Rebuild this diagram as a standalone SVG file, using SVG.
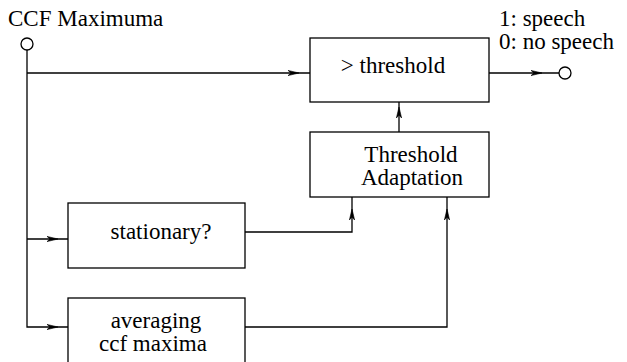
<svg xmlns="http://www.w3.org/2000/svg" xmlns:xlink="http://www.w3.org/1999/xlink" width="627" height="362" viewBox="0 0 627 362">
<style>
.box{fill:#fff;stroke:#000;stroke-width:1.3}
.ln{fill:none;stroke:#000;stroke-width:1.3}
.t{font-family:"Liberation Serif","Times New Roman",serif;font-size:23px;fill:#000}
.m{text-anchor:middle}
.ah{fill:#000;stroke:#000;stroke-width:0.6}
.port{fill:#fff;stroke:#000;stroke-width:1.3}
</style>
<defs>
<path id="arr" class="ah" d="M0,0 L-11,-2.6 L-8,0 L-11,2.6 Z"/>
</defs>
<g id="input">
<circle class="port" cx="27" cy="44" r="6"/>
<text class="t" x="8" y="26">CCF Maximuma</text>
</g>
<g id="output">
<circle class="port" cx="565" cy="73" r="6"/>
<text class="t" x="499" y="26">1: speech</text>
<text class="t" x="499" y="49">0: no speech</text>
</g>
<g id="threshold">
<rect class="box" x="310" y="38" width="179" height="64"/>
<text class="t m" x="393" y="73">&gt; threshold</text>
</g>
<g id="adaptation">
<rect class="box" x="310" y="132" width="179" height="65"/>
<text class="t m" x="411" y="162">Threshold</text>
<text class="t m" x="412" y="185">Adaptation</text>
</g>
<g id="stationary">
<rect class="box" x="68" y="203" width="177" height="65"/>
<text class="t m" x="161" y="239">stationary?</text>
</g>
<g id="averaging">
<rect class="box" x="68" y="298" width="177" height="70"/>
<text class="t m" x="156" y="328">averaging</text>
<text class="t m" x="153" y="351">ccf maxima</text>
</g>
<g id="connectors">
<path class="ln" d="M27,50 V327 H68"/>
<path class="ln" d="M27,73 H310"/>
<path class="ln" d="M27,239 H68"/>
<path class="ln" d="M489,73 H559"/>
<path class="ln" d="M399,132 V102"/>
<path class="ln" d="M245,232 H352 V197"/>
<path class="ln" d="M245,327 H447 V197"/>
<use xlink:href="#arr" transform="translate(299,73)"/>
<use xlink:href="#arr" transform="translate(542,73)"/>
<use xlink:href="#arr" transform="translate(58,239)"/>
<use xlink:href="#arr" transform="translate(58,327)"/>
<use xlink:href="#arr" transform="translate(399,107) rotate(-90)"/>
<use xlink:href="#arr" transform="translate(352,209) rotate(-90)"/>
<use xlink:href="#arr" transform="translate(447,209) rotate(-90)"/>
</g>
</svg>
